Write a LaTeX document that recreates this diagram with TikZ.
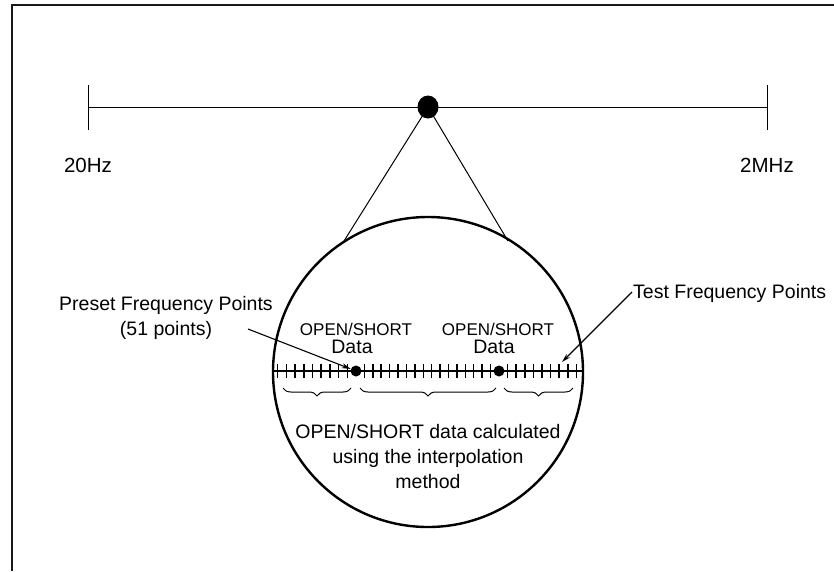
\documentclass[tikz,border=0pt]{standalone}
\usepackage{fontspec}
\setmainfont{Liberation Sans}
\usetikzlibrary{arrows.meta,decorations.pathreplacing}
\begin{document}
\begin{tikzpicture}[x=1pt,y=-1pt,
  frame/.style={line width=2.6pt, draw=black!90},
  thin/.style={line width=1pt},
  lbl/.style={font=\fontsize{19.5}{23}\selectfont, anchor=base, inner sep=0pt},
  smalllbl/.style={font=\fontsize{17}{20}\selectfont, anchor=base, inner sep=0pt},
  hzlbl/.style={font=\fontsize{20.5}{24}\selectfont, anchor=base, inner sep=0pt},
  scaletick/.style={line width=1.5pt},
  bracestyle/.style={line width=1pt, decorate, decoration={brace, amplitude=8pt, mirror}},
  pointer/.style={line width=1.1pt, -{Stealth[length=9pt,width=5pt]}}
]
\useasboundingbox (0,0) rectangle (834,571);
\fill[white] (0,0) rectangle (834,571);
% frame
\draw[frame] (12,571) -- (12,5) -- (834,5);
% top frequency axis
\coordinate (axL) at (88,107);
\coordinate (axR) at (767,107);
\draw[thin] (axL) -- (axR);
\draw[thin] (88,85) -- (88,130);
\draw[thin] (767,85) -- (767,130);
\node[hzlbl] (f20) at (88,172) {20Hz};
\node[hzlbl] (f2M) at (767,172) {2MHz};
% magnifier
\coordinate (cc) at (428,372);
\coordinate (tL) at (344,241);
\coordinate (tR) at (508,241);
\draw[thin] (428,107) -- (tL);
\draw[thin] (428,107) -- (tR);
\fill[black] (428,107) ellipse [x radius=10.5, y radius=11.5];
\draw[line width=2.4pt] (cc) circle [radius=155];
% scale line
\draw[line width=2.8pt] (273,371) -- (583,371);
\foreach \i in {0,...,8} \draw[scaletick] ({356-(9-\i)*8.7},364) -- ++(0,14);
\foreach \i in {1,...,16} \draw[scaletick] ({356+\i*8.41},364) -- ++(0,14);
\foreach \i in {1,...,9} \draw[scaletick] ({499+\i*8.6},364) -- ++(0,14);
\node[circle, fill=black, inner sep=0pt, minimum size=11pt] (d1) at (356,371) {};
\node[circle, fill=black, inner sep=0pt, minimum size=11pt] (d2) at (499,371) {};
% braces
\draw[bracestyle] (283,388) -- (351,388);
\draw[bracestyle] (360,388) -- (496,388);
\draw[bracestyle] (504,388) -- (573,388);
% labels in circle
\node[smalllbl] (os1) at (356,335) {OPEN/SHORT};
\node[lbl] (da1) at (352,353) {Data};
\node[smalllbl] (os2) at (498,335) {OPEN/SHORT};
\node[lbl] (da2) at (494,353) {Data};
\node[lbl] (calc1) at (428,438) {OPEN/SHORT data calculated};
\node[lbl] (calc2) at (428,463) {using the interpolation};
\node[lbl] (calc3) at (428,488) {method};
% preset label
\node[lbl] (pre1) at (166,310) {Preset Frequency Points};
\node[lbl] (pre2) at (166,335) {(51 points)};
\coordinate (preS) at (248,329);
\draw[pointer] (preS) -- (d1);
% test label
\node[lbl, anchor=base west] (test) at (633,298) {Test Frequency Points};
\coordinate (testS) at (632,292);
\coordinate (testE) at (562,362);
\draw[pointer] (testS) -- (testE);
\end{tikzpicture}
\end{document}
